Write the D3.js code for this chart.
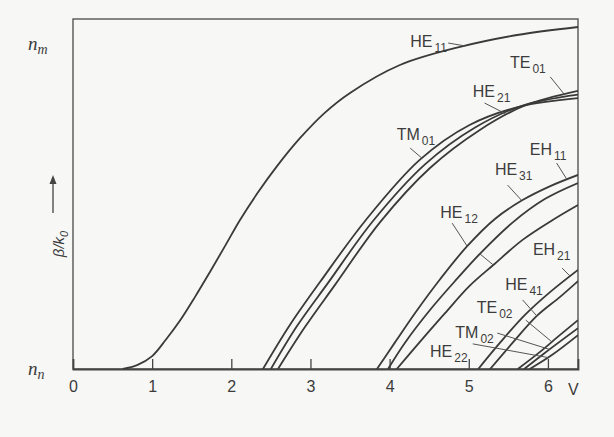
<!DOCTYPE html>
<html><head><meta charset="utf-8">
<script src="https://cdn.jsdelivr.net/npm/d3@7"></script>
<style>
html,body{margin:0;padding:0;background:#f7f7f5;}
svg{display:block;}
text{font-family:"Liberation Sans",Arial,sans-serif;fill:#3c3c3c;}
</style></head><body>
<svg id="chart" width="614" height="437"></svg>
<script>
// Normalized frequency V on the x axis, normalized propagation constant b on the y axis
const vTicks = [0, 1, 2, 3, 4, 5, 6];
const vTickLabels = ["0", "1", "2", "3", "4", "5", "6"];
const bTicks = [0, 0.93];
const bTickLabels = [["n", "n"], ["n", "m"]];

// Mode curves as [V, b] pairs
const HE11 = [[0.63,0],[0.81,0.011],[1.0,0.037],[1.17,0.083],[1.35,0.138],[1.54,0.206],[1.73,0.278],[1.92,0.352],[2.11,0.427],[2.34,0.507],[2.58,0.582],[2.87,0.662],[3.18,0.734],[3.50,0.791],[4.13,0.871],[4.89,0.923],[5.61,0.957],[6.38,0.980]];
const TM01 = [[2.40,0],[2.74,0.126],[3.12,0.249],[3.70,0.427],[4.38,0.599],[5.01,0.699],[5.65,0.752],[6.38,0.776]];
const HE21 = [[2.50,0],[2.83,0.123],[3.22,0.246],[3.79,0.424],[4.45,0.587],[5.08,0.692],[5.67,0.754],[6.38,0.786]];
const TE01 = [[2.59,0],[2.93,0.120],[3.31,0.241],[3.88,0.421],[4.51,0.576],[5.14,0.685],[5.71,0.755],[6.38,0.797]];
const EH11 = [[3.84,0],[4.07,0.077],[4.32,0.160],[4.64,0.258],[4.98,0.352],[5.33,0.430],[5.68,0.484],[6.03,0.524],[6.38,0.556]];
const HE31 = [[3.98,0],[4.19,0.074],[4.51,0.169],[4.85,0.258],[5.14,0.330],[5.56,0.421],[5.96,0.487],[6.38,0.533]];
const HE12 = [[4.09,0],[4.38,0.077],[4.70,0.160],[5.01,0.238],[5.31,0.298],[5.68,0.370],[6.06,0.427],[6.38,0.470]];
const EH21 = [[5.12,0],[5.39,0.074],[5.71,0.155],[6.03,0.221],[6.38,0.284]];
const HE41 = [[5.27,0],[5.55,0.074],[5.86,0.152],[6.15,0.206],[6.38,0.252]];
const TE02 = [[5.62,0],[5.90,0.049],[6.15,0.097],[6.38,0.140]];
const TM02 = [[5.70,0],[5.96,0.046],[6.38,0.117]];
const HE22 = [[5.77,0],[6.05,0.040],[6.38,0.097]];

const curves = {HE11, TM01, HE21, TE01, EH11, HE31, HE12, EH21, HE41, TE02, TM02, HE22};

// Mode names (letters, subscript), text anchor and leader lines ending on a curve
const modeLabels = [
  {t:"HE", s:"11", at:[4.26,0.923], leaders:[{from:[4.74,0.934], to:[4.95,"HE11"]}]},
  {t:"TE", s:"01", at:[5.52,0.862], leaders:[{from:[6.03,0.837], to:[6.21,"TE01"]}]},
  {t:"HE", s:"21", at:[5.05,0.779], leaders:[{from:[5.20,0.762], to:[5.46,"HE21"]}]},
  {t:"TM", s:"01", at:[4.09,0.656], leaders:[{from:[4.26,0.633], to:[4.41,"TM01"]}]},
  {t:"EH", s:"11", at:[5.77,0.613], leaders:[{from:[6.11,0.590], to:[6.24,"EH11"]}]},
  {t:"HE", s:"31", at:[5.33,0.556], leaders:[{from:[5.49,0.527], to:[5.67,"EH11"]}]},
  {t:"HE", s:"12", at:[4.64,0.433], leaders:[{from:[4.79,0.418], to:[4.98,"EH11"]}, {fromCurve:[5.14,"HE31"], to:[5.31,"HE12"]}]},
  {t:"EH", s:"21", at:[5.81,0.327], leaders:[{from:[6.18,0.289], to:[6.28,"EH21"]}]},
  {t:"HE", s:"41", at:[5.46,0.226], leaders:[{from:[5.68,0.198], to:[5.86,"HE41"]}]},
  {t:"TE", s:"02", at:[5.10,0.160], leaders:[{from:[5.72,0.140], to:[6.05,"TE02"]}]},
  {t:"TM", s:"02", at:[4.83,0.089], leaders:[{from:[5.36,0.103], to:[6.02,"TM02"]}]},
  {t:"HE", s:"22", at:[4.51,0.034], leaders:[{from:[5.05,0.072], to:[6.00,"HE22"]}]}
];

const svg = d3.select("#chart");
const plotLeft = 73, plotTop = 20, plotRight = 578, plotBottom = 369;

const x = d3.scaleLinear().domain([0, 6.38]).range([plotLeft, plotRight]);
const y = d3.scaleLinear().domain([0, 1]).range([plotBottom, plotTop]);

const ink = "#3a3a3a";

// b on a curve at a given V (linear between stored points)
function bAt(key, v) {
  const pts = curves[key];
  for (let i = 1; i < pts.length; i++) {
    if (v <= pts[i][0]) {
      const [v0, b0] = pts[i - 1], [v1, b1] = pts[i];
      return b0 + (b1 - b0) * (v - v0) / (v1 - v0);
    }
  }
  return pts[pts.length - 1][1];
}

svg.append("defs").append("clipPath").attr("id", "plot")
  .append("rect").attr("x", plotLeft).attr("y", plotTop).attr("width", plotRight - plotLeft).attr("height", plotBottom - plotTop);

// frame
svg.append("rect").attr("x", plotLeft).attr("y", plotTop - 1).attr("width", plotRight - plotLeft).attr("height", plotBottom - plotTop + 1)
  .attr("fill", "none").attr("stroke", "#555").attr("stroke-width", 1.4);

// x axis with inward ticks
const xAxis = d3.axisBottom(x).tickValues(vTicks).tickSize(-10).tickFormat((d, i) => vTickLabels[i]);
const gx = svg.append("g").attr("transform", `translate(0,${plotBottom})`).call(xAxis);
gx.select(".domain").attr("stroke", "#444").attr("stroke-width", 1.8);
gx.selectAll(".tick line").attr("stroke", "#444").attr("stroke-width", 1.3);
gx.selectAll(".tick text").attr("y", 12).attr("font-size", 16).attr("fill", "#444")
  .style("font-family", '"Liberation Sans Narrow","Liberation Sans",sans-serif');
gx.select(".tick:first-of-type line").remove();
svg.append("text").attr("x", x(6) + 20).attr("y", plotBottom + 26).attr("font-size", 16).attr("fill", "#444")
  .style("font-family", '"Liberation Sans Narrow","Liberation Sans",sans-serif').text("V");

// y tick labels n with subscripts
bTicks.forEach((b, i) => {
  const t = svg.append("text").attr("x", 28).attr("y", y(b) + 6).attr("font-size", 19)
    .attr("font-style", "italic").attr("fill", "#444").style("font-family", '"Liberation Serif",serif');
  t.append("tspan").text(bTickLabels[i][0]);
  t.append("tspan").attr("dy", 4).attr("font-size", 14).text(bTickLabels[i][1]);
});

// y axis title with arrow
const yt = svg.append("text").attr("transform", "translate(64,244) rotate(-90)").attr("text-anchor", "middle")
  .attr("font-size", 15).attr("font-style", "italic").attr("fill", "#444");
yt.append("tspan").text("β/k");
yt.append("tspan").attr("dy", 4).attr("font-size", 11).text("0");
svg.append("line").attr("x1", 53).attr("x2", 53).attr("y1", 213).attr("y2", 181)
  .attr("stroke", "#444").attr("stroke-width", 1.3);
svg.append("path").attr("d", "M53,175 L49.5,184 L56.5,184 Z").attr("fill", "#444");

// mode curves
const line = d3.line().x(d => x(d[0])).y(d => y(d[1])).curve(d3.curveCatmullRom.alpha(0.5));
svg.append("g").attr("clip-path", "url(#plot)")
  .selectAll("path").data(Object.entries(curves)).join("path")
  .attr("d", d => line(d[1])).attr("fill", "none").attr("stroke", ink).attr("stroke-width", 1.8);

// mode labels and leaders
const lg = svg.append("g");
modeLabels.forEach(m => {
  const t = lg.append("text").attr("x", x(m.at[0])).attr("y", y(m.at[1])).attr("font-size", 16).attr("fill", "#444")
    .style("font-family", '"Liberation Sans Narrow","Liberation Sans",sans-serif');
  t.append("tspan").text(m.t);
  t.append("tspan").attr("dx", 2).attr("dy", 5).attr("font-size", 12).text(m.s);
  m.leaders.forEach(l => {
    const p0 = l.from ? [l.from[0], l.from[1]] : [l.fromCurve[0], bAt(l.fromCurve[1], l.fromCurve[0])];
    const p1 = [l.to[0], bAt(l.to[1], l.to[0])];
    lg.append("line").attr("x1", x(p0[0])).attr("y1", y(p0[1])).attr("x2", x(p1[0])).attr("y2", y(p1[1]))
      .attr("stroke", "#555").attr("stroke-width", 1);
  });
});
</script>
</body></html>
